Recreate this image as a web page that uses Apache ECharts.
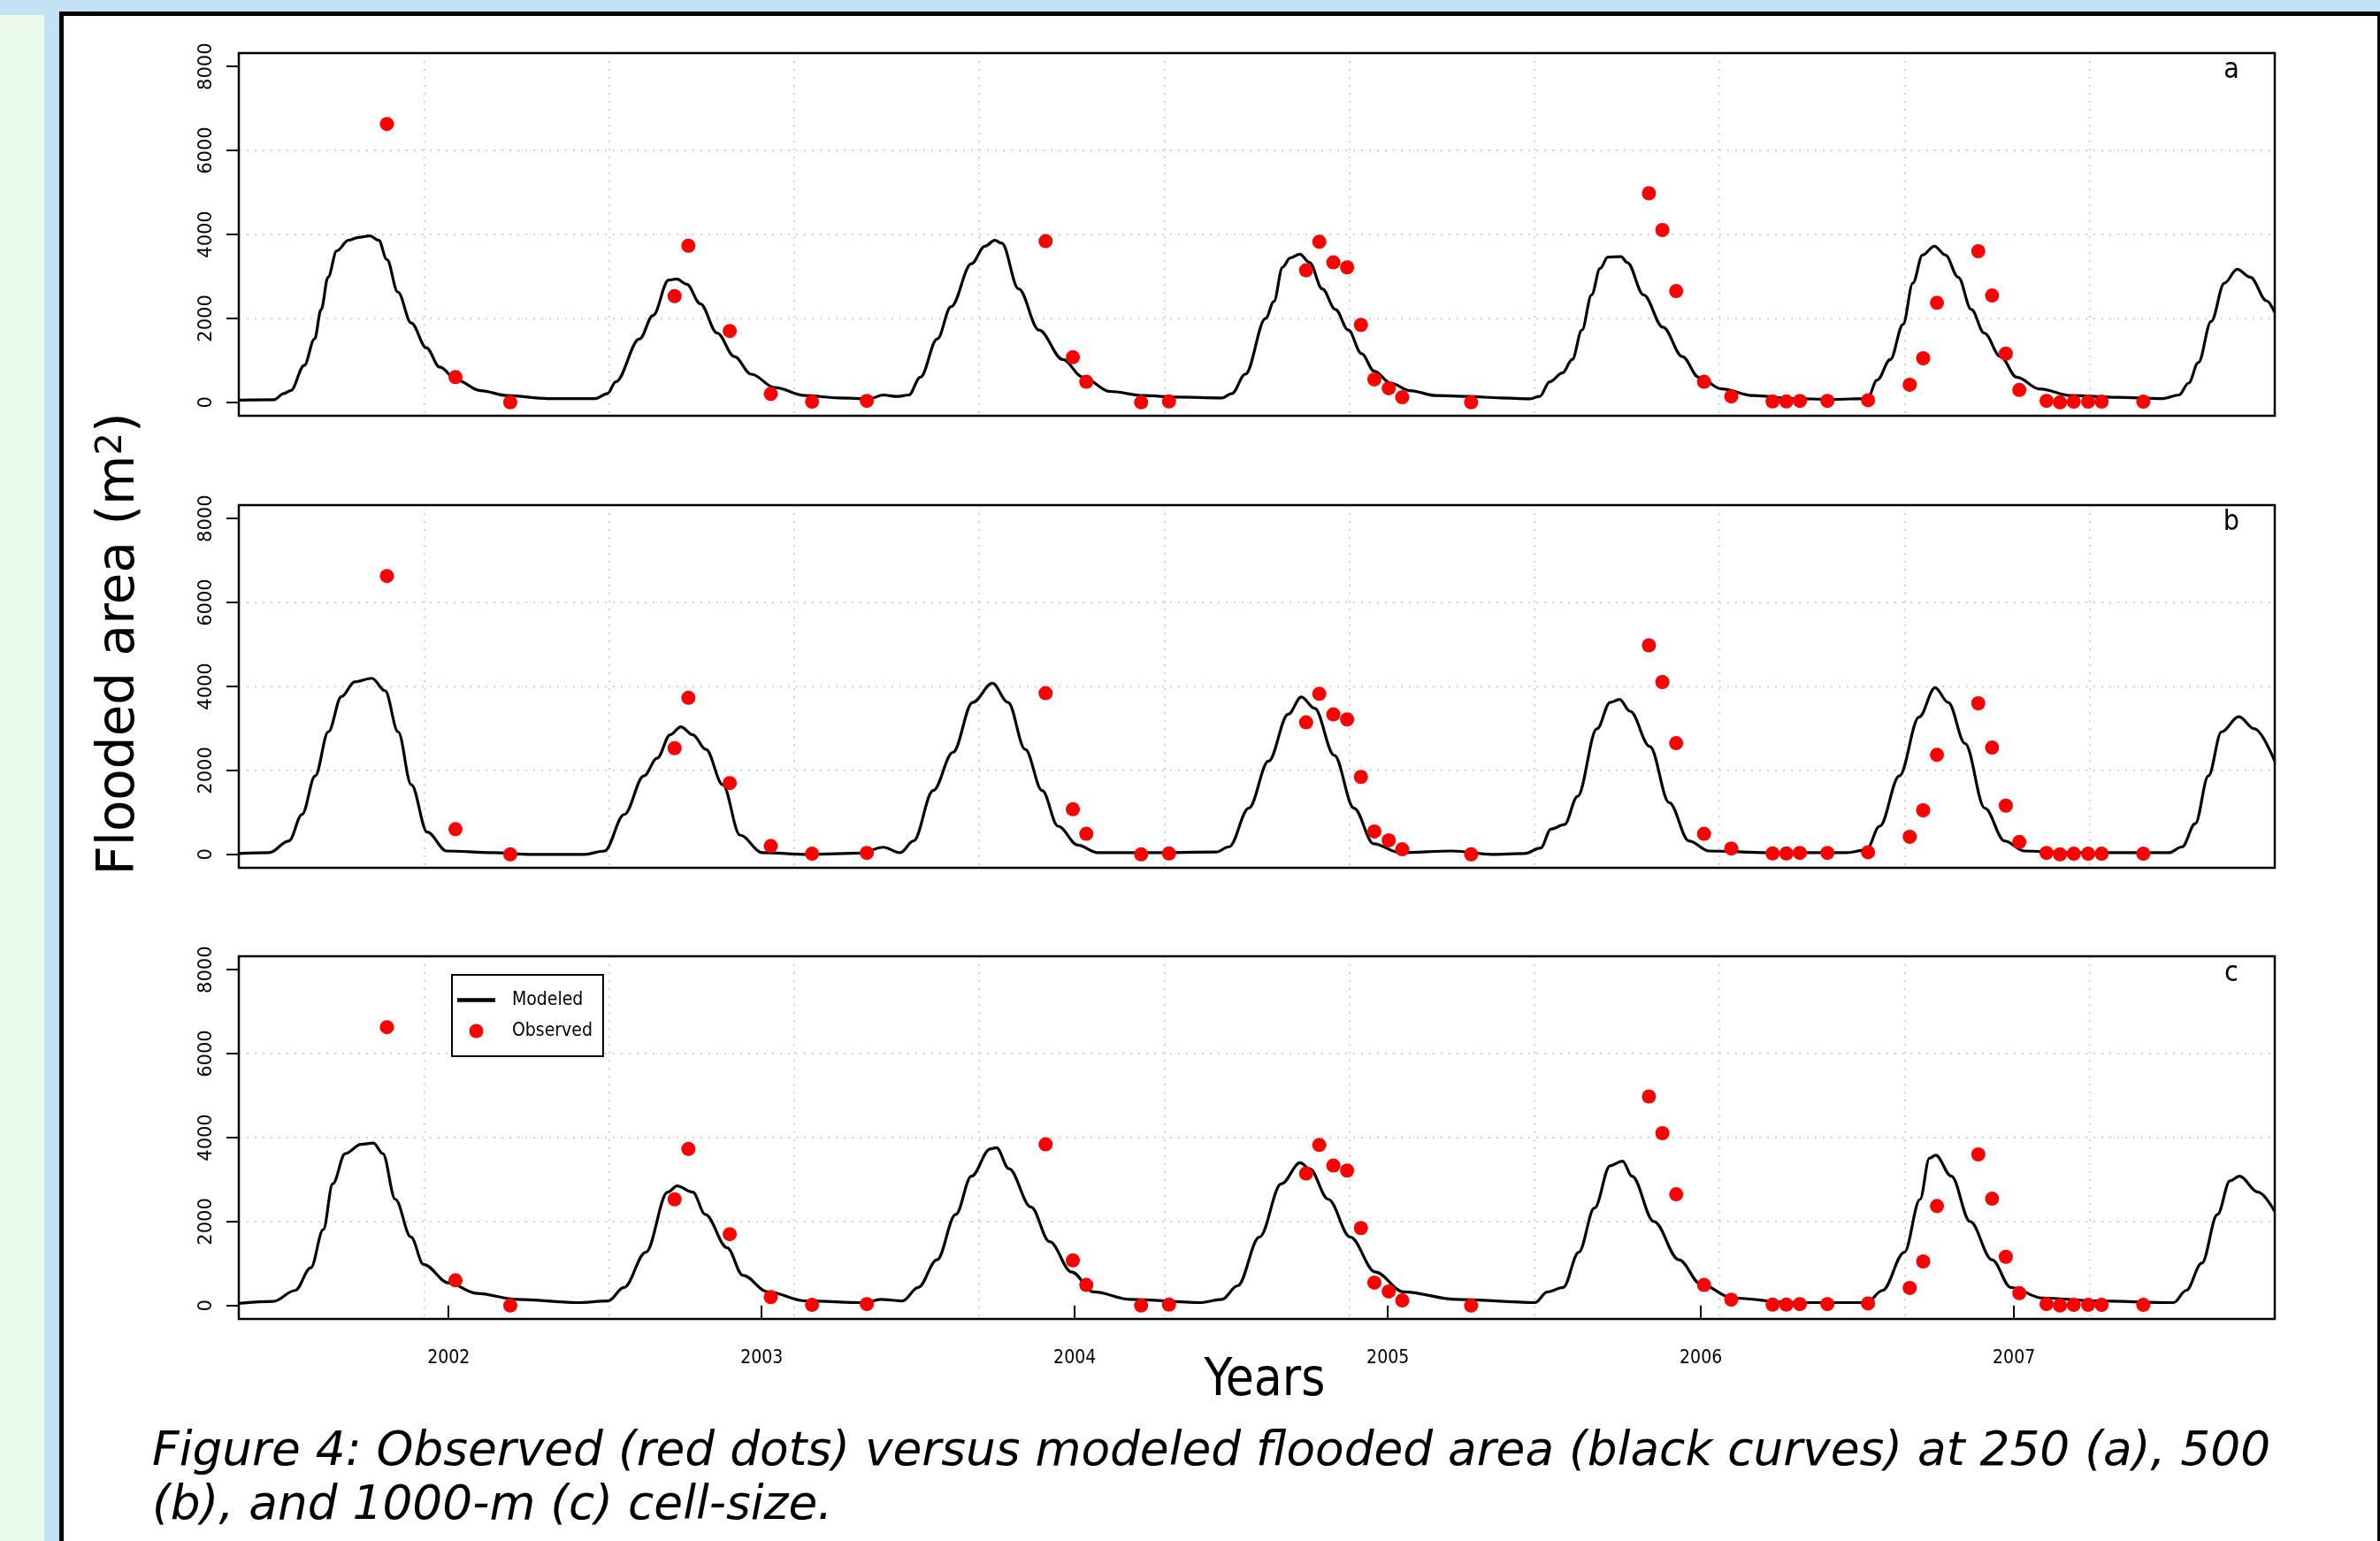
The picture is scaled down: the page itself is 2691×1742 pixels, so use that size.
<!DOCTYPE html>
<html>
<head>
<meta charset="utf-8">
<script src="https://cdn.jsdelivr.net/npm/echarts@6/dist/echarts.min.js"></script>
<style>
  html, body { margin: 0; padding: 0; background: #c3e2f3; }
  #chart { width: 2691px; height: 1742px; }
</style>
</head>
<body>
<div id="chart"></div>
<script>
// tick labels
const yearTicks = [2002, 2003, 2004, 2005, 2006, 2007]
const areaTicks = [0, 2000, 4000, 6000, 8000]
const panelLetters = ['a', 'b', 'c']

// modeled flooded area, 250 m cells (a)
const aYears = [2001.330, 2001.442, 2001.474, 2001.496, 2001.539, 2001.572, 2001.593, 2001.615, 2001.643, 2001.680,
  2001.712, 2001.749, 2001.777, 2001.803, 2001.838, 2001.881, 2001.929, 2001.972, 2002.026, 2002.102,
  2002.188, 2002.318, 2002.469, 2002.508, 2002.534, 2002.610, 2002.653, 2002.703, 2002.729, 2002.761,
  2002.804, 2002.858, 2002.913, 2002.967, 2003.042, 2003.140, 2003.248, 2003.345, 2003.388, 2003.432,
  2003.470, 2003.507, 2003.561, 2003.605, 2003.670, 2003.713, 2003.745, 2003.767, 2003.821, 2003.886,
  2003.962, 2004.026, 2004.113, 2004.221, 2004.329, 2004.470, 2004.502, 2004.545, 2004.610, 2004.636,
  2004.664, 2004.688, 2004.719, 2004.750, 2004.791, 2004.833, 2004.874, 2004.916, 2004.957, 2005.009,
  2005.071, 2005.154, 2005.257, 2005.361, 2005.454, 2005.485, 2005.517, 2005.558, 2005.589, 2005.620,
  2005.651, 2005.678, 2005.703, 2005.745, 2005.765, 2005.817, 2005.879, 2005.941, 2005.993, 2006.066,
  2006.169, 2006.294, 2006.418, 2006.532, 2006.563, 2006.605, 2006.646, 2006.677, 2006.708, 2006.746,
  2006.781, 2006.822, 2006.864, 2006.905, 2006.957, 2007.009, 2007.081, 2007.185, 2007.330, 2007.475,
  2007.527, 2007.558, 2007.589, 2007.630, 2007.672, 2007.713, 2007.755, 2007.807, 2007.833]
const aArea = [50, 60, 210, 280, 880, 1510, 2210, 2980, 3610, 3860,
  3930, 3965, 3860, 3400, 2630, 1890, 1300, 840, 530, 280,
  160, 90, 90, 210, 490, 1510, 2070, 2910, 2940, 2810,
  2350, 1650, 1090, 670, 350, 160, 105, 85, 175, 140,
  175, 600, 1510, 2280, 3300, 3720, 3860, 3790, 2700, 1720,
  1020, 600, 260, 160, 125, 105, 210, 670, 2000, 2400,
  3220, 3440, 3530, 3330, 2700, 2210, 1720, 1160, 740, 460,
  280, 160, 140, 105, 85, 140, 490, 700, 1020, 1720,
  2560, 3190, 3460, 3470, 3330, 2560, 1790, 1090, 600, 320,
  160, 90, 70, 90, 530, 1020, 1860, 2840, 3510, 3720,
  3510, 2980, 2210, 1650, 1090, 600, 320, 160, 120, 90,
  175, 460, 950, 1930, 2840, 3170, 2980, 2420, 2140]

// 500 m cells (b)
const bYears = [2001.331, 2001.427, 2001.490, 2001.532, 2001.574, 2001.616, 2001.658, 2001.700, 2001.755, 2001.797,
  2001.839, 2001.881, 2001.932, 2001.994, 2002.141, 2002.267, 2002.435, 2002.498, 2002.561, 2002.624,
  2002.666, 2002.708, 2002.742, 2002.780, 2002.822, 2002.876, 2002.931, 2003.002, 2003.149, 2003.317,
  2003.388, 2003.443, 2003.485, 2003.548, 2003.611, 2003.674, 2003.737, 2003.787, 2003.842, 2003.896,
  2003.947, 2004.010, 2004.073, 2004.241, 2004.451, 2004.493, 2004.556, 2004.619, 2004.682, 2004.724,
  2004.766, 2004.829, 2004.892, 2004.955, 2005.039, 2005.207, 2005.333, 2005.437, 2005.488, 2005.521,
  2005.564, 2005.606, 2005.668, 2005.710, 2005.740, 2005.774, 2005.837, 2005.899, 2005.962, 2006.026,
  2006.215, 2006.466, 2006.529, 2006.571, 2006.634, 2006.697, 2006.748, 2006.790, 2006.844, 2006.907,
  2006.970, 2007.033, 2007.180, 2007.495, 2007.537, 2007.579, 2007.621, 2007.663, 2007.718, 2007.768,
  2007.833]
const bArea = [20, 40, 320, 950, 1870, 2920, 3760, 4110, 4195, 3900,
  2920, 1660, 530, 80, 40, 0, 0, 80, 950, 1870,
  2290, 2850, 3040, 2850, 2500, 1660, 460, 40, 0, 30,
  170, 40, 320, 1520, 2430, 3620, 4075, 3620, 2500, 1520,
  670, 220, 40, 40, 55, 180, 1100, 2220, 3340, 3750,
  3480, 2360, 1100, 250, 40, 80, 0, 20, 150, 600,
  710, 1380, 2990, 3620, 3690, 3410, 2570, 1230, 320, 80,
  40, 40, 110, 670, 1870, 3270, 3970, 3620, 2640, 1100,
  320, 80, 40, 40, 180, 730, 1870, 2920, 3280, 2990,
  2220]

// 1000 m cells (c)
const cYears = [2001.33, 2001.44, 2001.51, 2001.56, 2001.60, 2001.63, 2001.67, 2001.72, 2001.76, 2001.79,
  2001.83, 2001.88, 2001.92, 2002.00, 2002.09, 2002.22, 2002.41, 2002.51, 2002.56, 2002.63,
  2002.70, 2002.73, 2002.78, 2002.82, 2002.89, 2002.94, 2003.02, 2003.14, 2003.33, 2003.38,
  2003.45, 2003.50, 2003.56, 2003.62, 2003.67, 2003.73, 2003.75, 2003.79, 2003.86, 2003.92,
  2003.99, 2004.06, 2004.18, 2004.40, 2004.47, 2004.52, 2004.59, 2004.66, 2004.72, 2004.75,
  2004.81, 2004.88, 2004.96, 2005.05, 2005.22, 2005.47, 2005.51, 2005.56, 2005.61, 2005.66,
  2005.71, 2005.75, 2005.78, 2005.85, 2005.93, 2006.00, 2006.10, 2006.29, 2006.53, 2006.58,
  2006.65, 2006.70, 2006.73, 2006.75, 2006.80, 2006.86, 2006.93, 2006.99, 2007.09, 2007.26,
  2007.51, 2007.55, 2007.60, 2007.65, 2007.69, 2007.72, 2007.78, 2007.833]
const cArea = [50, 100, 360, 900, 1810, 2900, 3620, 3840, 3870, 3620,
  2530, 1630, 980, 540, 290, 145, 70, 110, 430, 1270,
  2700, 2850, 2700, 2170, 1375, 720, 325, 110, 70, 145,
  110, 430, 1090, 2170, 3080, 3730, 3760, 3260, 2350, 1520,
  800, 325, 145, 70, 145, 470, 1630, 2900, 3400, 3260,
  2530, 1630, 800, 325, 145, 70, 325, 430, 1270, 2320,
  3330, 3440, 3080, 2000, 1090, 510, 180, 70, 70, 360,
  1270, 2530, 3510, 3580, 3080, 2000, 1090, 430, 180, 110,
  70, 360, 1010, 2170, 2970, 3080, 2700, 2240]

// observed flooded area (same in all panels)
const obsYears = [2001.803, 2002.022, 2002.197, 2002.722, 2002.766, 2002.898, 2003.029, 2003.161, 2003.336, 2003.907,
  2003.994, 2004.037, 2004.212, 2004.301, 2004.739, 2004.781, 2004.826, 2004.870, 2004.914, 2004.957,
  2005.003, 2005.046, 2005.266, 2005.834, 2005.877, 2005.921, 2006.010, 2006.097, 2006.229, 2006.273,
  2006.316, 2006.404, 2006.534, 2006.667, 2006.710, 2006.754, 2006.886, 2006.930, 2006.974, 2007.017,
  2007.104, 2007.147, 2007.191, 2007.237, 2007.280, 2007.413]
const obsArea = [6630, 600, 0, 2530, 3730, 1700, 200, 15, 35, 3840,
  1075, 490, 0, 20, 3145, 3825, 3335, 3215, 1845, 545,
  335, 120, 0, 4980, 4105, 2650, 490, 140, 20, 20,
  35, 35, 50, 420, 1050, 2370, 3600, 2545, 1160, 295,
  35, 0, 15, 15, 15, 15]

const modYears = [aYears, bYears, cYears]
const modArea = [aArea, bArea, cArea]

function zip(xs, ys) {
  return xs.map((x, i) => [x, ys[i]])
}

var myChart = echarts.init(document.getElementById('chart'))

const tops = [60, 571, 1081]
const gridLine = { color: '#d3d3d3', width: 2, type: [2, 7] }
const condensed = 'DejaVu Sans Condensed'

const grids = tops.map(t => ({
  left: 270, width: 2302, top: t, height: 410,
  show: true, backgroundColor: 'transparent',
  borderColor: '#000', borderWidth: 2.5, z: 10,
  outerBoundsMode: 'none'
}))

const xAxes = []
tops.forEach((t, i) => {
  xAxes.push({
    type: 'value', gridIndex: i, min: 2001.33, max: 2007.833,
    axisLine: { show: false },
    splitLine: { show: false },
    axisTick: { show: i === 2, customValues: yearTicks, length: 14, lineStyle: { color: '#000', width: 2 } },
    axisLabel: {
      show: i === 2, customValues: yearTicks, margin: 34,
      formatter: v => String(v),
      color: '#000', fontFamily: condensed, fontSize: 21
    }
  })
})
// dotted vertical grid: plot width cut into 11 equal cells
tops.forEach((t, i) => {
  xAxes.push({
    type: 'value', gridIndex: i, min: 0, max: 11, interval: 1, position: 'top',
    axisLine: { show: false }, axisTick: { show: false }, axisLabel: { show: false },
    splitLine: { show: true, showMinLine: false, showMaxLine: false, lineStyle: gridLine }
  })
})

const yAxes = tops.map((t, i) => ({
  type: 'value', gridIndex: i, min: -320, max: 8320, splitNumber: 4,
  axisLine: { show: false },
  axisTick: { show: true, customValues: areaTicks, length: 14, lineStyle: { color: '#000', width: 2 } },
  axisLabel: {
    customValues: areaTicks, rotate: 90, margin: 26,
    formatter: v => String(v),
    color: '#000', fontFamily: 'DejaVu Sans', fontSize: 21
  },
  splitLine: { show: true, showMinLine: false, showMaxLine: false, lineStyle: gridLine }
}))

const series = []
tops.forEach((t, i) => {
  series.push({
    name: 'Modeled', type: 'line', xAxisIndex: i, yAxisIndex: i,
    data: zip(modYears[i], modArea[i]),
    symbol: 'none', smooth: 0.35, smoothMonotone: 'x',
    lineStyle: { color: '#000', width: 3.2 },
    itemStyle: { color: '#000' },
    z: 3, silent: true
  })
  series.push({
    name: 'Observed', type: 'scatter', xAxisIndex: i, yAxisIndex: i,
    data: zip(obsYears, obsArea),
    symbol: 'circle', symbolSize: 16,
    itemStyle: { color: '#ff0000', opacity: 1 },
    z: 4, silent: true
  })
})

const graphic = [
  { type: 'rect', shape: { x: 0, y: 0, width: 2691, height: 1742 }, style: { fill: '#c3e2f3' }, z: -10, silent: true },
  { type: 'rect', shape: { x: 0, y: 17, width: 50, height: 1725 }, style: { fill: '#ebfcea' }, z: -10, silent: true },
  { type: 'rect', shape: { x: 67, y: 13, width: 2624, height: 1729 }, style: { fill: '#000' }, z: -10, silent: true },
  { type: 'rect', shape: { x: 72, y: 18, width: 2616, height: 1724 }, style: { fill: '#fff' }, z: -10, silent: true },
  {
    type: 'text', x: 136, y: 728, rotation: Math.PI / 2, z: 5,
    style: {
      text: 'Flooded area (m{s|2})', fill: '#000',
      fontFamily: 'DejaVu Sans', fontSize: 58,
      align: 'center', verticalAlign: 'middle', textAlign: 'center', textVerticalAlign: 'middle',
      rich: { s: { fontFamily: 'DejaVu Sans', fontSize: 40, fill: '#000', verticalAlign: 'top' } }
    }
  },
  {
    type: 'text', x: 1430, y: 1562, z: 5,
    style: {
      text: 'Years', fill: '#000', fontFamily: condensed, fontSize: 58,
      align: 'center', verticalAlign: 'middle', textAlign: 'center', textVerticalAlign: 'middle'
    }
  },
  {
    type: 'text', x: 172, y: 1642, z: 5,
    style: {
      text: 'Figure 4: Observed (red dots) versus modeled flooded area (black curves) at 250 (a), 500',
      fill: '#000', fontFamily: 'DejaVu Sans', fontStyle: 'italic', fontSize: 53.3,
      align: 'left', verticalAlign: 'middle', textAlign: 'left', textVerticalAlign: 'middle'
    }
  },
  {
    type: 'text', x: 172, y: 1703, z: 5,
    style: {
      text: '(b), and 1000-m (c) cell-size.',
      fill: '#000', fontFamily: 'DejaVu Sans', fontStyle: 'italic', fontSize: 53.3,
      align: 'left', verticalAlign: 'middle', textAlign: 'left', textVerticalAlign: 'middle'
    }
  }
]
panelLetters.forEach((l, i) => {
  graphic.push({
    type: 'text', x: 2523, y: tops[i] + 20, z: 5,
    style: {
      text: l, fill: '#000', fontFamily: condensed, fontSize: 32,
      align: 'center', verticalAlign: 'middle', textAlign: 'center', textVerticalAlign: 'middle'
    }
  })
})

const option = {
  animation: false,
  grid: grids,
  xAxis: xAxes,
  yAxis: yAxes,
  legend: {
    data: [
      { name: 'Modeled', icon: 'path://M0,0 L40,0 L40,4 L0,4 Z' },
      { name: 'Observed', icon: 'circle' }
    ],
    orient: 'vertical', left: 511, top: 1102,
    padding: [18, 12, 18, 6], itemGap: 14,
    itemWidth: 43, itemHeight: 16,
    borderColor: '#000', borderWidth: 2, backgroundColor: '#fff',
    selectedMode: false,
    textStyle: { fontFamily: condensed, fontSize: 21, color: '#000', padding: [0, 0, 0, 14] },
    z: 20
  },
  graphic: graphic,
  series: series
}

myChart.setOption(option)
</script>
</body>
</html>
